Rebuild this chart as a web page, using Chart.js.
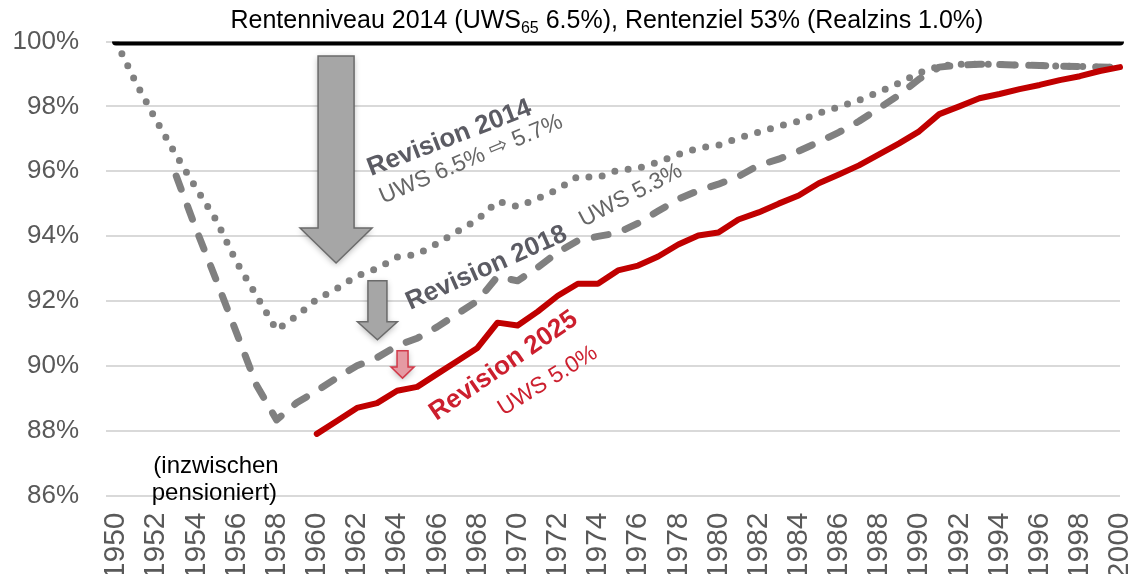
<!DOCTYPE html>
<html>
<head>
<meta charset="utf-8">
<script src="https://cdn.jsdelivr.net/npm/chart.js@4.4.1/dist/chart.umd.min.js"></script>
<style>
html, body { margin: 0; padding: 0; background: #fff; overflow: hidden; }
#wrap { position: relative; width: 1135px; height: 574px; }
</style>
</head>
<body>
<div id="wrap"><canvas id="lineChart"></canvas></div>
<script>
// Jahrgänge (x-Achse)
var years = [1950, 1951, 1952, 1953, 1954, 1955, 1956, 1957, 1958, 1959,
             1960, 1961, 1962, 1963, 1964, 1965, 1966, 1967, 1968, 1969,
             1970, 1971, 1972, 1973, 1974, 1975, 1976, 1977, 1978, 1979,
             1980, 1981, 1982, 1983, 1984, 1985, 1986, 1987, 1988, 1989,
             1990, 1991, 1992, 1993, 1994, 1995, 1996, 1997, 1998, 1999, 2000];

// Rentenniveau 2014 = 100%
var rentenziel = [100, 100, 100, 100, 100, 100, 100, 100, 100, 100,
                  100, 100, 100, 100, 100, 100, 100, 100, 100, 100,
                  100, 100, 100, 100, 100, 100, 100, 100, 100, 100,
                  100, 100, 100, 100, 100, 100, 100, 100, 100, 100,
                  100, 100, 100, 100, 100, 100, 100, 100, 100, 100, 100];

// Revision 2014 (gepunktet)
var revision2014 = [100, 98.72, 97.57, 96.49, 95.47, 94.48, 93.2, 92.16, 91.1, 91.54,
                    92.05, 92.38, 92.77, 93.0, 93.35, 93.44, 93.77, 94.14, 94.51, 95.07,
                    94.91, 95.16, 95.44, 95.84, 95.81, 96.03, 96.09, 96.28, 96.52, 96.71,
                    96.8, 97.02, 97.2, 97.39, 97.54, 97.79, 97.98, 98.19, 98.44, 98.72,
                    99.03, 99.24, 99.3, 99.3, 99.29, 99.27, 99.26, 99.24, 99.23, 99.21, 99.2];

// Revision 2018 (gestrichelt)
var revision2018 = [null, null, null, 95.85, 94.2, 92.63, 91.02, 89.4, 88.33, 88.86,
                    89.23, 89.63, 90.0, 90.25, 90.62, 90.85, 91.2, 91.6, 92.0, 92.75,
                    92.62, 93.03, 93.5, 93.86, 93.99, 94.1, 94.4, 94.77, 95.14, 95.4,
                    95.6, 95.84, 96.18, 96.37, 96.62, 96.9, 97.2, 97.54, 97.94, 98.35,
                    98.84, 99.21, 99.27, 99.3, 99.29, 99.27, 99.26, 99.24, 99.23, 99.21, 99.2];

// Revision 2025 (rot)
var revision2025 = [null, null, null, null, null, null, null, null, null, null,
                    87.9, 88.3, 88.7, 88.85, 89.23, 89.35, 89.75, 90.15, 90.55, 91.33,
                    91.24, 91.67, 92.16, 92.53, 92.53, 92.94, 93.09, 93.37, 93.74, 94.02,
                    94.11, 94.51, 94.73, 95.0, 95.25, 95.63, 95.9, 96.18, 96.52, 96.86,
                    97.23, 97.76, 98.0, 98.25, 98.38, 98.53, 98.66, 98.81, 98.93, 99.09, 99.21];

var FONT = "'Liberation Sans', Arial, sans-serif";
var GREY_TEXT = '#595959';
var LINE_GREY = '#808080';
var RED = '#c00000';

// Pfeile: Jahrgang der Mitte, Oberkante und Spitze in Prozent
var arrows = [
    { year: 1960.96, top: 99.55, tip: 93.17, shaft: 36, head: 72, headLen: 35, fill: '#a6a6a6', stroke: '#6b6b6b' },
    { year: 1963.02, top: 92.62, tip: 90.8, shaft: 19, head: 40, headLen: 18, fill: '#a6a6a6', stroke: '#6b6b6b' },
    { year: 1964.27, top: 90.46, tip: 89.62, shaft: 11, head: 23, headLen: 11, fill: '#e59aa3', stroke: '#d23a4a' }
];

// gedrehte Beschriftungen
var labels = [
    { text: 'Revision 2014', year: 1962.7, value: 95.85, angle: -21, font: 'bold 26px ' + FONT, color: '#5b5b63' },
    { text: 'UWS 6.5% \u21E8 5.7%', year: 1963.3, value: 95.0, angle: -23, font: '23px ' + FONT, color: '#666666' },
    { text: 'Revision 2018', year: 1964.65, value: 91.72, angle: -24, font: 'bold 26px ' + FONT, color: '#5b5b63' },
    { text: 'UWS 5.3%', year: 1973.3, value: 94.28, angle: -27.5, font: '23px ' + FONT, color: '#666666' },
    { text: 'Revision 2025', year: 1965.95, value: 88.3, angle: -34.5, font: 'bold 26px ' + FONT, color: '#cc1f2e' },
    { text: 'UWS 5.0%', year: 1969.3, value: 88.45, angle: -32, font: '23px ' + FONT, color: '#cc1f2e' }
];

var annotations = {
    id: 'annotations',
    afterDatasetsDraw: function (chart) {
        var ctx = chart.ctx;
        var xs = chart.scales.x, ys = chart.scales.y;
        function px(yr) { return xs.getPixelForValue(yr - years[0]); }
        function py(v) { return ys.getPixelForValue(v); }

        // arrows
        arrows.forEach(function (a) {
            var cx = px(a.year), top = py(a.top), tip = py(a.tip);
            var hs = a.shaft / 2, hh = a.head / 2, neck = tip - a.headLen;
            ctx.save();
            ctx.beginPath();
            ctx.moveTo(cx - hs, top);
            ctx.lineTo(cx + hs, top);
            ctx.lineTo(cx + hs, neck);
            ctx.lineTo(cx + hh, neck);
            ctx.lineTo(cx, tip);
            ctx.lineTo(cx - hh, neck);
            ctx.lineTo(cx - hs, neck);
            ctx.closePath();
            ctx.shadowColor = 'rgba(0,0,0,0.3)';
            ctx.shadowBlur = 6;
            ctx.shadowOffsetY = 2;
            ctx.fillStyle = a.fill;
            ctx.fill();
            ctx.shadowColor = 'transparent';
            ctx.lineWidth = 1.5;
            ctx.strokeStyle = a.stroke;
            ctx.stroke();
            ctx.restore();
        });

        // rotated labels
        labels.forEach(function (t) {
            ctx.save();
            ctx.translate(px(t.year), py(t.value));
            ctx.rotate(t.angle * Math.PI / 180);
            ctx.font = t.font;
            ctx.fillStyle = t.color;
            ctx.textAlign = 'left';
            ctx.textBaseline = 'alphabetic';
            ctx.fillText(t.text, 0, 0);
            ctx.restore();
        });

        // title with subscript
        ctx.save();
        ctx.fillStyle = '#000';
        ctx.textBaseline = 'alphabetic';
        ctx.textAlign = 'left';
        var big = '25px ' + FONT, small = '16px ' + FONT;
        var p1 = 'Rentenniveau 2014 (UWS', sub = '65', p2 = ' 6.5%), Rentenziel 53% (Realzins 1.0%)';
        ctx.font = big;
        var w1 = ctx.measureText(p1).width, w3 = ctx.measureText(p2).width;
        ctx.font = small;
        var w2 = ctx.measureText(sub).width;
        var x0 = px(1974.45) - (w1 + w2 + w3) / 2, yb = py(100.42);
        ctx.font = big;
        ctx.fillText(p1, x0, yb);
        ctx.font = small;
        ctx.fillText(sub, x0 + w1, yb + 5);
        ctx.font = big;
        ctx.fillText(p2, x0 + w1 + w2, yb);

        // (inzwischen pensioniert)
        ctx.font = '24px ' + FONT;
        ctx.textAlign = 'center';
        ctx.fillText('(inzwischen', px(1954.98), py(86.7));
        ctx.fillText('pensioniert)', px(1954.9), py(85.86));
        ctx.restore();
    }
};

Chart.defaults.font.family = FONT;

var ctx = document.getElementById('lineChart').getContext('2d');
var myChart = new Chart(ctx, {
    type: 'line',
    data: {
        labels: years,
        datasets: [{
            label: 'Revision 2025',
            data: revision2025,
            borderColor: RED,
            borderWidth: 6,
            borderJoinStyle: 'round',
            borderCapStyle: 'round'
        }, {
            label: 'Rentenniveau 2014',
            data: rentenziel,
            borderColor: '#000000',
            borderWidth: 8,
            borderCapStyle: 'round'
        }, {
            label: 'Revision 2018',
            data: revision2018,
            borderColor: LINE_GREY,
            borderWidth: 7,
            borderDash: [14, 18],
            borderCapStyle: 'round',
            borderJoinStyle: 'round'
        }, {
            label: 'Revision 2014',
            data: revision2014,
            borderColor: LINE_GREY,
            borderWidth: 7,
            borderDash: [0, 13.5],
            borderCapStyle: 'round',
            borderJoinStyle: 'round'
        }]
    },
    options: {
        responsive: true,
        maintainAspectRatio: false,
        animation: false,
        devicePixelRatio: 1,
        elements: {
            point: { radius: 0, hoverRadius: 0 },
            line: { tension: 0, fill: false }
        },
        layout: {
            padding: { top: 41.5, right: 15, left: 0, bottom: 0 }
        },
        plugins: {
            legend: { display: false },
            tooltip: { enabled: false },
            title: { display: false }
        },
        scales: {
            x: {
                grid: { display: false, drawTicks: false },
                border: { display: false },
                afterFit: function (scale) {
                    scale.height = 78.5;
                    scale.paddingLeft = 0;
                    scale.paddingRight = 0;
                },
                ticks: {
                    autoSkip: false,
                    maxRotation: 90,
                    minRotation: 90,
                    padding: 17,
                    color: GREY_TEXT,
                    font: { size: 30 },
                    callback: function (val, i) {
                        return years[i] % 2 === 0 ? String(years[i]) : '';
                    }
                }
            },
            y: {
                min: 86,
                max: 100,
                afterFit: function (scale) {
                    scale.width = 116;
                    scale.paddingTop = 0;
                    scale.paddingBottom = 0;
                },
                grid: {
                    color: '#d9d9d9',
                    lineWidth: 2,
                    tickLength: 10,
                    tickColor: '#d9d9d9'
                },
                border: { display: false },
                ticks: {
                    stepSize: 2,
                    padding: 27,
                    color: GREY_TEXT,
                    font: { size: 26 },
                    callback: function (v) { return v + '%'; }
                }
            }
        }
    },
    plugins: [annotations]
});
</script>
</body>
</html>
